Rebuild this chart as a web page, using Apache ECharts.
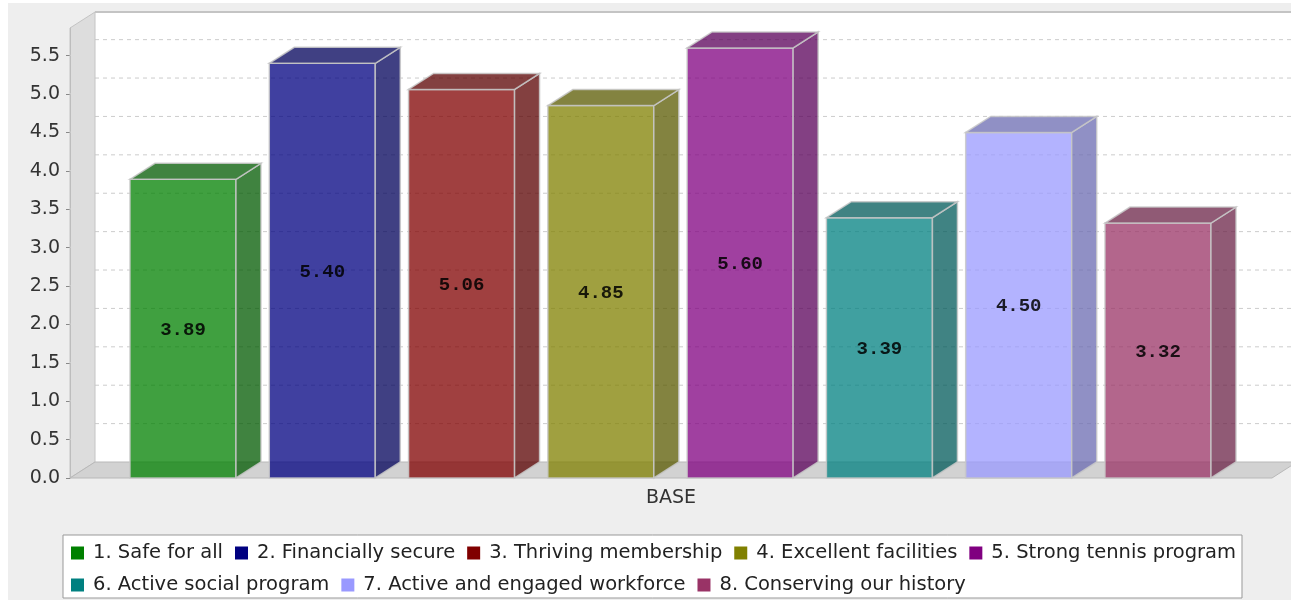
<!DOCTYPE html>
<html>
<head>
<meta charset="utf-8">
<script src="https://cdn.jsdelivr.net/npm/echarts@6/dist/echarts.min.js"></script>
<style>
  html, body { margin: 0; padding: 0; background: #ffffff; }
  #chart { width: 1291px; height: 600px; }
</style>
</head>
<body>
<div id="chart"></div>
<script>
// Single category, one bar per strategic goal
const categories = ['BASE'];
const seriesNames = [
  '1. Safe for all',
  '2. Financially secure',
  '3. Thriving membership',
  '4. Excellent facilities',
  '5. Strong tennis program',
  '6. Active social program',
  '7. Active and engaged workforce',
  '8. Conserving our history'
];
const seriesValues = [3.89, 5.40, 5.06, 4.85, 5.60, 3.39, 4.50, 3.32];
const seriesColors = ['#008000', '#000080', '#800000', '#808000', '#800080', '#008080', '#9999ff', '#993366'];
const yTicks = [0, 0.5, 1, 1.5, 2, 2.5, 3, 3.5, 4, 4.5, 5, 5.5];
const yMax = 5.86;

// 3D look: depth offset of walls and bars, translucency of the bars
const DX = 25, DY = 16;
const ALPHA = 0.75;
// bar placement inside the category band (fractions of band width)
const BAR_START = 0.0499, BAR_PITCH = 0.11588, BAR_W = 0.0882;

function rgba(hex, factor, a) {
  const n = parseInt(hex.slice(1), 16);
  const r = Math.floor(((n >> 16) & 255) * factor);
  const g = Math.floor(((n >> 8) & 255) * factor);
  const b = Math.floor((n & 255) * factor);
  return 'rgba(' + r + ',' + g + ',' + b + ',' + a + ')';
}

const chart = echarts.init(document.getElementById('chart'));

const wallSeries = {
  type: 'custom',
  name: '__walls',
  silent: true,
  z: 1,
  data: [[0, 0]],
  renderItem: function (params, api) {
    const cs = params.coordSys;
    const x0 = cs.x, x1 = cs.x + cs.width, yTop = cs.y, yBot = cs.y + cs.height;
    const children = [];
    // back wall
    children.push({ type: 'rect', shape: { x: x0 + DX, y: yTop - DY, width: cs.width, height: cs.height },
      style: { fill: '#ffffff' } });
    // grid lines on the back wall and the left wall
    yTicks.forEach(function (v) {
      if (v === 0) return;
      const y = api.coord([0, v])[1];
      children.push({ type: 'line', shape: { x1: x0 + DX, y1: y - DY, x2: x1 + DX, y2: y - DY },
        style: { stroke: '#cccccc', lineWidth: 1, lineDash: [4, 4] } });
      children.push({ type: 'line', shape: { x1: x0, y1: y, x2: x0 + DX, y2: y - DY },
        style: { stroke: '#eeeeee', lineWidth: 1 } });
    });
    // left wall
    children.push({ type: 'polygon',
      shape: { points: [[x0, yBot], [x0, yTop], [x0 + DX, yTop - DY], [x0 + DX, yBot - DY]] },
      style: { fill: 'rgba(200,200,200,0.45)', stroke: '#c4c4c4', lineWidth: 1 } });
    // floor
    children.push({ type: 'polygon',
      shape: { points: [[x0, yBot], [x1, yBot], [x1 + DX, yBot - DY], [x0 + DX, yBot - DY]] },
      style: { fill: '#d2d2d2', stroke: '#b8b8b8', lineWidth: 1 } });
    // top edge of the back wall
    children.push({ type: 'line', shape: { x1: x0 + DX, y1: yTop - DY, x2: x1 + DX, y2: yTop - DY },
      style: { stroke: '#c4c4c4', lineWidth: 2 } });
    return { type: 'group', children: children };
  }
};

const barSeries = seriesNames.map(function (name, i) {
  return {
    type: 'custom',
    name: name,
    z: 3,
    itemStyle: { color: seriesColors[i] },
    data: [[0, seriesValues[i]]],
    renderItem: function (params, api) {
      const base = api.coord([api.value(0), 0]);
      const top = api.coord([api.value(0), api.value(1)]);
      const band = api.size([1, 0])[0];
      const left = base[0] - band / 2 + band * (BAR_START + i * BAR_PITCH);
      const w = band * BAR_W;
      const right = left + w;
      const yT = top[1], yB = base[1];
      const col = seriesColors[i];
      const edge = { stroke: 'rgba(200,200,200,0.85)', lineWidth: 1.5 };
      return {
        type: 'group',
        children: [
          { type: 'rect', shape: { x: left, y: yT, width: w, height: yB - yT },
            style: Object.assign({ fill: rgba(col, 1, ALPHA) }, edge) },
          { type: 'polygon', shape: { points: [[right, yT], [right + DX, yT - DY], [right + DX, yB - DY], [right, yB]] },
            style: Object.assign({ fill: rgba(col, 0.7, ALPHA) }, edge) },
          { type: 'polygon', shape: { points: [[left, yT], [left + DX, yT - DY], [right + DX, yT - DY], [right, yT]] },
            style: Object.assign({ fill: rgba(col, 0.7, ALPHA) }, edge) },
          { type: 'text', x: left + w / 2, y: (yT + yB) / 2 + 1.5,
            style: { text: api.value(1).toFixed(2), align: 'center', verticalAlign: 'middle',
              font: 'bold 19px "Liberation Mono", "DejaVu Sans Mono", monospace', fill: 'rgba(0,0,0,0.85)' } }
        ]
      };
    }
  };
});

chart.setOption({
  animation: false,
  backgroundColor: '#ffffff',
  graphic: { elements: [
    { type: 'rect', z: -100, shape: { x: 8, y: 3, width: 1283, height: 597 }, style: { fill: '#eeeeee' } }
  ] },
  grid: { left: 70, right: 19, top: 28, bottom: 122, containLabel: false },
  legend: {
    data: seriesNames,
    selectedMode: false,
    left: 63, top: 535, width: 1200,
    orient: 'horizontal',
    icon: 'rect', itemWidth: 13, itemHeight: 13, itemGap: 12,
    padding: [8, 6, 3, 8],
    backgroundColor: '#ffffff', borderColor: '#999999', borderWidth: 1, borderRadius: 0,
    textStyle: { fontFamily: 'DejaVu Sans', fontSize: 19.5, color: '#222222', padding: [0, 5, 0, 4] }
  },
  xAxis: {
    type: 'category',
    data: categories,
    axisLine: { show: false },
    axisTick: { show: false },
    splitLine: { show: false },
    axisLabel: { margin: 11, fontFamily: 'DejaVu Sans', fontSize: 19, color: '#333333' }
  },
  yAxis: {
    type: 'value',
    min: 0, max: yMax,
    splitLine: { show: false },
    axisLine: { show: true, lineStyle: { color: '#a8a8a8', width: 1 } },
    axisTick: { show: true, length: 4, customValues: yTicks, lineStyle: { color: '#888888' } },
    axisLabel: { margin: 10, customValues: yTicks, formatter: function (v) { return v.toFixed(1); },
      fontFamily: 'DejaVu Sans', fontSize: 19, color: '#333333' }
  },
  series: [wallSeries].concat(barSeries)
});
</script>
</body>
</html>
